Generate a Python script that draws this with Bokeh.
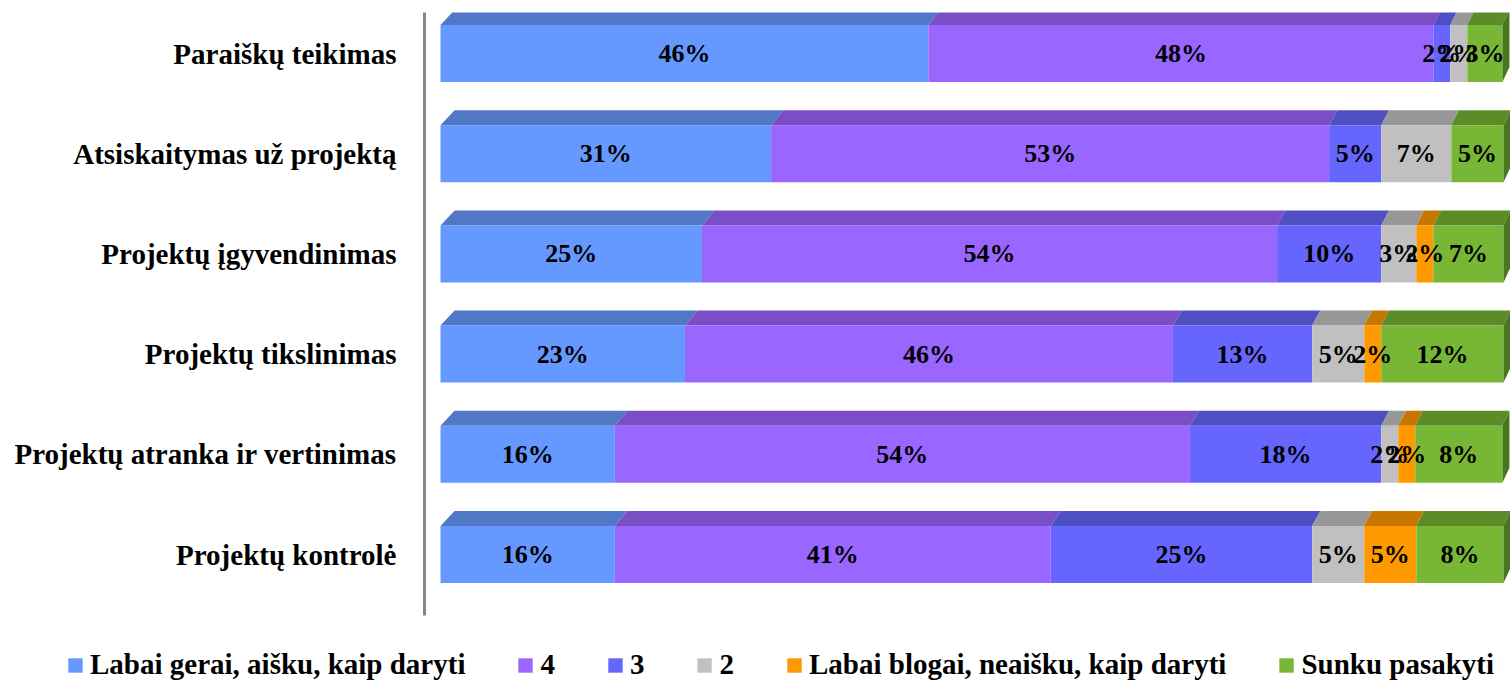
from bokeh.plotting import figure
from bokeh.layouts import column
from bokeh.models import Range1d, FixedTicker, Legend, LegendItem, ColumnDataSource
from bokeh.embed import file_html
from bokeh.resources import INLINE
from bokeh.core.properties import value

# ---------------- data (top row first) ----------------
categories = [
    "Paraiškų teikimas",
    "Atsiskaitymas už projektą",
    "Projektų įgyvendinimas",
    "Projektų tikslinimas",
    "Projektų atranka ir vertinimas",
    "Projektų kontrolė",
]
series_names = [
    "Labai gerai, aišku, kaip daryti",
    "4",
    "3",
    "2",
    "Labai blogai, neaišku, kaip daryti",
    "Sunku pasakyti",
]
s_labai_gerai = [45.9, 31.1, 24.6, 23.0, 16.4, 16.4]
s_4 = [47.5, 52.5, 54.1, 45.9, 54.1, 41.0]
s_3 = [1.6, 4.9, 9.8, 13.1, 18.0, 24.6]
s_2 = [1.6, 6.6, 3.3, 4.9, 1.6, 4.9]
s_labai_blogai = [0.0, 0.0, 1.6, 1.6, 1.6, 4.9]
s_sunku = [3.3, 4.9, 6.6, 11.5, 8.2, 8.2]
series_values = [s_labai_gerai, s_4, s_3, s_2, s_labai_blogai, s_sunku]

# ---------------- style ----------------
front_colors = ["#6699FF", "#9966FF", "#6666FF", "#C0C0C0", "#FF9900", "#77B735"]
top_colors = ["#5078C6", "#7A4FC6", "#4F4FC4", "#979797", "#C77700", "#5C8C28"]
side_color = "#4B7520"
FONT = "Liberation Serif"

W = 1510
H_MAIN = 640
H_LEG = 41
BORDER_L = 424
BORDER_T = 12
BORDER_B = 25
PX_X = 10.63      # px per percent
PX_Y = 100.2      # px per row
x_start = -16 / PX_X
x_end = x_start + (W - BORDER_L) / PX_X
y_end = (len(categories) - 1) + 41 / PX_Y
y_start = y_end - (H_MAIN - BORDER_T - BORDER_B) / PX_Y

bar_h = 57 / PX_Y
depth_y = 15 / PX_Y


def depth_x(xv):
    return (14 - 7 * xv / 100.0) / PX_X


ys = list(range(len(categories) - 1, -1, -1))

p = figure(
    width=W, height=H_MAIN,
    x_range=Range1d(x_start, x_end), y_range=Range1d(y_start, y_end),
    output_backend="svg", toolbar_location=None,
    x_axis_location=None,
    min_border_left=BORDER_L, min_border_right=0,
    min_border_top=BORDER_T, min_border_bottom=BORDER_B,
)
p.frame_align = False
p.outline_line_color = None
p.xgrid.visible = False
p.ygrid.visible = False
p.background_fill_color = "white"

lefts = [0.0] * len(categories)
label_x, label_y, label_t = [], [], []
for si, vals in enumerate(series_values):
    left = lefts[:]
    right = [l + v for l, v in zip(left, vals)]
    lefts = right
    # top faces
    xs_t, ys_t = [], []
    for l, r, y, v in zip(left, right, ys, vals):
        if v <= 0:
            continue
        yt = y + bar_h / 2
        xs_t.append([l, r, r + depth_x(r), l + depth_x(l)])
        ys_t.append([yt, yt, yt + depth_y, yt + depth_y])
    p.patches(xs_t, ys_t, fill_color=top_colors[si], line_color=None)
    src = ColumnDataSource(dict(y=ys, left=left, right=right))
    p.hbar(y="y", left="left", right="right", height=bar_h, source=src,
           fill_color=front_colors[si], line_color=None)
    for l, v, y in zip(left, vals, ys):
        if v > 0:
            label_x.append(l + v / 2)
            label_y.append(y)
            label_t.append(f"{int(v + 0.5)}%")

# right side face of the bars
xs_s, ys_s = [], []
for r, y in zip(lefts, ys):
    yb = y - bar_h / 2
    yt = y + bar_h / 2
    d = depth_x(r)
    xs_s.append([r, r + d, r + d, r])
    ys_s.append([yb, yb + depth_y, yt + depth_y, yt])
p.patches(xs_s, ys_s, fill_color=side_color, line_color=None)

lab_src = ColumnDataSource(dict(x=label_x, y=label_y, t=label_t))
p.text(x="x", y="y", text="t", source=lab_src, text_font=value(FONT),
       text_font_style="bold", text_font_size="26px", text_align="center",
       text_baseline="middle", text_color="black")

ax = p.yaxis[0]
ax.ticker = FixedTicker(ticks=ys)
ax.major_label_overrides = {y: c for y, c in zip(ys, categories)}
ax.axis_line_color = "#868686"
ax.axis_line_width = 3
ax.major_tick_line_color = None
ax.minor_tick_line_color = None
ax.major_label_standoff = 22
ax.major_label_text_font = FONT
ax.major_label_text_font_style = "bold"
ax.major_label_text_font_size = "29px"
ax.major_label_text_color = "black"

# ---------------- legend figure ----------------
pl = figure(
    width=W, height=H_LEG, x_range=Range1d(0, 1), y_range=Range1d(0, 1),
    output_backend="svg", toolbar_location=None,
    x_axis_location=None, y_axis_location=None,
    min_border_left=0, min_border_right=0, min_border_top=0, min_border_bottom=0,
)
pl.frame_align = False
pl.outline_line_color = None
pl.xgrid.visible = False
pl.ygrid.visible = False
leg_items = []
for n, c in zip(series_names, front_colors):
    # off-range dummy bar: only used for the legend swatch
    r = pl.hbar(y=[-5], left=[0], right=[1], height=1, fill_color=c, line_color=None)
    leg_items.append(LegendItem(label=n, renderers=[r]))

legend = Legend(
    items=leg_items,
    orientation="horizontal", location=(66, 0),
    glyph_width=18, glyph_height=18, label_standoff=6, spacing=51, label_width=5,
    padding=0, margin=0, border_line_color=None, background_fill_alpha=0,
    label_text_font=FONT, label_text_font_style="bold", label_text_font_size="29px",
    label_text_color="black",
)
pl.add_layout(legend)

layout = column(p, pl, spacing=0)
open("out.html", "w").write(file_html(layout, INLINE))
